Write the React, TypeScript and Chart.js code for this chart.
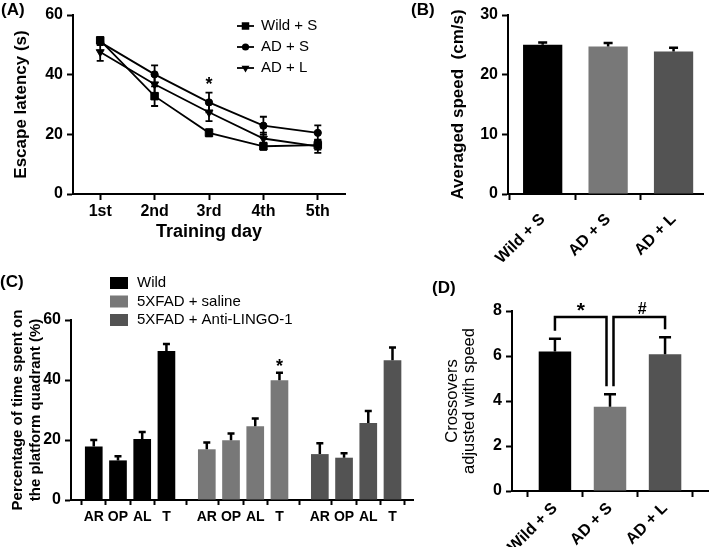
import React, { useEffect, useRef } from 'react';
import { Chart, registerables } from 'chart.js';

Chart.register(...registerables);

const FONT = "'Liberation Sans', Arial, Helvetica, sans-serif";
Chart.defaults.font.family = FONT;
Chart.defaults.color = '#000';

// ---------------- data ----------------
// (A) escape latency
const trainingDays = ['1st', '2nd', '3rd', '4th', '5th'];
const latencyWildS = [51.5, 32.8, 20.5, 16.0, 16.4];
const latencyWildSErr = [1.0, 3.3, 1.2, 1.2, 1.5];
const latencyADS = [50.9, 40.1, 30.7, 22.9, 20.5];
const latencyADSErr = [1.0, 3.0, 3.3, 3.0, 2.5];
const latencyADL = [47.6, 36.8, 27.4, 18.6, 16.0];
const latencyADLErr = [3.0, 3.0, 3.0, 2.0, 2.2];
const latencySeriesNames = ['Wild + S', 'AD + S', 'AD + L'];

// (B) averaged speed
const groupLabels = ['Wild + S', 'AD + S', 'AD + L'];
const speedValues = [25.0, 24.7, 23.9];
const speedErr = [0.4, 0.6, 0.6];

// (C) probe trial
const quadrantLabels = ['AR', 'OP', 'AL', 'T'];
const probeGroupNames = ['Wild', '5XFAD + saline', '5XFAD + Anti-LINGO-1'];
const probeWild = [17.8, 13.2, 20.3, 49.7];
const probeWildErr = [2.2, 1.4, 2.4, 2.3];
const probeSaline = [16.9, 19.9, 24.6, 39.9];
const probeSalineErr = [2.3, 2.3, 2.6, 2.5];
const probeAnti = [15.3, 14.1, 25.7, 46.6];
const probeAntiErr = [3.6, 1.5, 4.0, 4.2];

// (D) crossovers
const crossoverValues = [6.2, 3.74, 6.08];
const crossoverErr = [0.57, 0.56, 0.75];
const crossoverLevel = 7.73;
const crossoverMarks = [
  { from: 0, to: 1, text: '*' },
  { from: 1, to: 2, text: '#' },
];

const groupColors = ['#000000', '#787878', '#535353'];

// ---------------- helpers ----------------
const tickFont = (size = 16) => ({ family: FONT, size, weight: 'bold' as any });

function axisBase() {
  return {
    border: { display: true, color: '#000', width: 2 },
    grid: {
      display: true,
      drawOnChartArea: false,
      drawTicks: true,
      tickLength: 6,
      tickWidth: 2,
      color: '#000',
    },
  };
}

function drawMarker(ctx: CanvasRenderingContext2D, style: string, x: number, y: number, r: number) {
  ctx.beginPath();
  if (style === 'rect') {
    const s = r * Math.SQRT1_2;
    ctx.rect(x - s, y - s, 2 * s, 2 * s);
  } else if (style === 'circle') {
    ctx.arc(x, y, r, 0, Math.PI * 2);
  } else {
    ctx.moveTo(x, y + r);
    ctx.lineTo(x - r * 0.866, y - r * 0.5);
    ctx.lineTo(x + r * 0.866, y - r * 0.5);
    ctx.closePath();
  }
  ctx.fill();
}

const errorBarPlugin = {
  id: 'errorBars',
  afterDatasetsDraw(chart: any, _args: any, opts: any) {
    const { ctx } = chart;
    const yScale = chart.scales.y;
    ctx.save();
    ctx.strokeStyle = '#000';
    ctx.lineWidth = opts.lineWidth;
    chart.data.datasets.forEach((ds: any, di: number) => {
      const errs = ds.errors;
      if (!errs) return;
      const meta = chart.getDatasetMeta(di);
      meta.data.forEach((el: any, i: number) => {
        const raw = ds.data[i];
        const v = typeof raw === 'number' ? raw : raw.y;
        const e = errs[i];
        const x = el.x;
        const top = yScale.getPixelForValue(v + e);
        const bottom = yScale.getPixelForValue(opts.both ? v - e : v);
        const h = opts.cap / 2;
        ctx.beginPath();
        ctx.moveTo(x, bottom);
        ctx.lineTo(x, top);
        ctx.moveTo(x - h, top);
        ctx.lineTo(x + h, top);
        if (opts.both) {
          ctx.moveTo(x - h, bottom);
          ctx.lineTo(x + h, bottom);
        }
        ctx.stroke();
      });
    });
    ctx.restore();
  },
};

function starPlugin(id: string, series: number, index: number, size: number, lift: number) {
  return {
    id,
    afterDatasetsDraw(chart: any) {
      const { ctx } = chart;
      const ds = chart.data.datasets[series];
      const el = chart.getDatasetMeta(series).data[index];
      const raw = ds.data[index];
      const v = typeof raw === 'number' ? raw : raw.y;
      const y = chart.scales.y.getPixelForValue(v + ds.errors[index]) - lift;
      ctx.save();
      ctx.fillStyle = '#000';
      ctx.font = `bold ${size}px ${FONT}`;
      ctx.textAlign = 'center';
      ctx.textBaseline = 'alphabetic';
      ctx.fillText('*', el.x, y);
      ctx.restore();
    },
  };
}

// ---------------- (A) ----------------
function configA(): any {
  const styles = [
    { pointStyle: 'rect', pointRadius: 5.3, pointRotation: 0 },
    { pointStyle: 'circle', pointRadius: 3.6, pointRotation: 0 },
    { pointStyle: 'triangle', pointRadius: 4.6, pointRotation: 180 },
  ];
  const values = [latencyWildS, latencyADS, latencyADL];
  const errors = [latencyWildSErr, latencyADSErr, latencyADLErr];
  const legendPlugin = {
    id: 'legendA',
    afterDraw(chart: any) {
      const { ctx, chartArea } = chart;
      ctx.save();
      chart.data.datasets.forEach((ds: any, i: number) => {
        const y = chartArea.top + 11 + i * 21;
        const x0 = chartArea.left + 164;
        ctx.strokeStyle = '#000';
        ctx.lineWidth = 1.8;
        ctx.beginPath();
        ctx.moveTo(x0, y);
        ctx.lineTo(x0 + 17, y);
        ctx.stroke();
        ctx.fillStyle = '#000';
        drawMarker(ctx, ds.pointStyle, x0 + 8.5, y, ds.pointRadius);
        ctx.font = `15px ${FONT}`;
        ctx.textBaseline = 'middle';
        ctx.textAlign = 'left';
        ctx.fillText(ds.label, x0 + 24, y);
      });
      ctx.restore();
    },
  };
  return {
    type: 'line',
    data: {
      labels: trainingDays,
      datasets: latencySeriesNames.map((name, i) => ({
        label: name,
        data: values[i],
        errors: errors[i],
        ...styles[i],
        borderColor: '#000',
        backgroundColor: '#000',
        pointBackgroundColor: '#000',
        pointBorderColor: '#000',
        pointBorderWidth: 1,
        borderWidth: 1.8,
        tension: 0,
        fill: false,
      })),
    },
    options: {
      responsive: false,
      animation: false,
      devicePixelRatio: 1,
      layout: { padding: { left: 7, top: 15, right: 15, bottom: 15 } },
      plugins: {
        legend: { display: false },
        tooltip: { enabled: false },
        errorBars: { both: true, cap: 7, lineWidth: 1.8 },
      },
      scales: {
        x: {
          type: 'category',
          offset: true,
          afterFit: (s: any) => { s.height = 53; },
          ...axisBase(),
          ticks: { color: '#000', font: tickFont(16), padding: 2, autoSkip: false, maxRotation: 0 },
          title: {
            display: true,
            text: 'Training day',
            color: '#000',
            font: { family: FONT, size: 18, weight: 'bold' },
            padding: { top: 0, bottom: 4 },
          },
        },
        y: {
          type: 'linear',
          min: 0,
          max: 60,
          afterFit: (s: any) => { s.width = 66; },
          ...axisBase(),
          ticks: { color: '#000', font: tickFont(16), padding: 4, stepSize: 20 },
          title: {
            display: true,
            text: 'Escape latency (s)',
            color: '#000',
            font: { family: FONT, size: 17, weight: 'bold' },
            padding: { top: 4, bottom: 4 },
          },
        },
      },
    },
    plugins: [errorBarPlugin, legendPlugin, starPlugin('starA', 1, 2, 18, 3)],
  };
}

// ---------------- (B) ----------------
function configB(): any {
  const idx = groupLabels.map((_, i) => i);
  return {
    type: 'bar',
    data: {
      datasets: [
        {
          label: 'Averaged speed',
          data: speedValues.map((v, i) => ({ x: i, y: v })),
          errors: speedErr,
          backgroundColor: groupColors,
          borderWidth: 0,
          barPercentage: 0.6,
          categoryPercentage: 1,
        },
      ],
    },
    options: {
      responsive: false,
      animation: false,
      devicePixelRatio: 1,
      layout: { padding: { left: 84, top: 15, right: 6, bottom: 0 } },
      plugins: {
        legend: { display: false },
        tooltip: { enabled: false },
        errorBars: { both: false, cap: 9, lineWidth: 2.5 },
      },
      scales: {
        x: {
          type: 'linear',
          bounds: 'data',
          offset: false,
          min: -0.53,
          max: 2.45,
          afterFit: (s: any) => { s.height = 76; },
          afterBuildTicks: (s: any) => { s.ticks = idx.map((v) => ({ value: v })); },
          ...axisBase(),
          ticks: {
            color: '#000',
            font: tickFont(16),
            padding: 10,
            autoSkip: false,
            minRotation: 45,
            maxRotation: 45,
            callback: (_v: any, i: number) => groupLabels[i],
          },
        },
        y: {
          type: 'linear',
          min: 0,
          max: 30,
          afterFit: (s: any) => { s.width = 64; },
          ...axisBase(),
          ticks: { color: '#000', font: tickFont(16), padding: 4, stepSize: 10 },
          title: {
            display: true,
            text: 'Averaged speed  (cm/s)',
            color: '#000',
            font: { family: FONT, size: 17, weight: 'bold' },
            padding: { top: 4, bottom: 4 },
          },
        },
      },
    },
    plugins: [errorBarPlugin],
  };
}

// ---------------- (C) ----------------
const GROUP_STRIDE = 14 / 3;
function configC(): any {
  const groups = [probeWild, probeSaline, probeAnti];
  const groupErr = [probeWildErr, probeSalineErr, probeAntiErr];
  const positions: number[] = [];
  const tickLabels: string[] = [];
  groups.forEach((_, g) =>
    quadrantLabels.forEach((q, i) => {
      positions.push(g * GROUP_STRIDE + i);
      tickLabels.push(q);
    }),
  );
  const legendPlugin = {
    id: 'legendC',
    afterDraw(chart: any) {
      const { ctx, chartArea } = chart;
      ctx.save();
      chart.data.datasets.forEach((ds: any, i: number) => {
        const y = chartArea.top - 37 + i * 18.5;
        const x0 = chartArea.left + 39;
        ctx.fillStyle = ds.backgroundColor;
        ctx.fillRect(x0, y - 6, 18, 12);
        ctx.fillStyle = '#000';
        ctx.font = `15px ${FONT}`;
        ctx.textBaseline = 'middle';
        ctx.textAlign = 'left';
        ctx.fillText(ds.label, x0 + 27, y);
      });
      ctx.restore();
    },
  };
  return {
    type: 'bar',
    data: {
      datasets: probeGroupNames.map((name, g) => ({
        label: name,
        data: groups[g].map((v, i) => ({ x: g * GROUP_STRIDE + i, y: v })),
        errors: groupErr[g],
        backgroundColor: groupColors[g],
        borderWidth: 0,
        grouped: false,
        barPercentage: 0.73,
        categoryPercentage: 1,
      })),
    },
    options: {
      responsive: false,
      animation: false,
      devicePixelRatio: 1,
      layout: { padding: { left: 5, top: 50, right: 7, bottom: 7 } },
      plugins: {
        legend: { display: false },
        tooltip: { enabled: false },
        errorBars: { both: false, cap: 7, lineWidth: 2.5 },
      },
      scales: {
        x: {
          type: 'linear',
          bounds: 'data',
          offset: false,
          min: -0.94,
          max: 13.18,
          afterFit: (s: any) => { s.height = 40; },
          afterBuildTicks: (s: any) => { s.ticks = positions.map((v) => ({ value: v })); },
          ...axisBase(),
          grid: { ...axisBase().grid, tickLength: 5 },
          ticks: {
            color: '#000',
            font: tickFont(14),
            padding: 4,
            autoSkip: false,
            maxRotation: 0,
            callback: (_v: any, i: number) => tickLabels[i],
          },
        },
        y: {
          type: 'linear',
          min: 0,
          max: 60,
          afterFit: (s: any) => { s.width = 66; },
          ...axisBase(),
          ticks: { color: '#000', font: tickFont(16), padding: 4, stepSize: 20 },
          title: {
            display: true,
            text: ['Percentage of time spent on', 'the platform quadrant (%)'],
            color: '#000',
            font: { family: FONT, size: 15, weight: 'bold', lineHeight: 1.2 },
            padding: { top: 4, bottom: 4 },
          },
        },
      },
    },
    plugins: [errorBarPlugin, legendPlugin, starPlugin('starC', 1, 3, 18, 1)],
  };
}

// ---------------- (D) ----------------
function configD(): any {
  const idx = groupLabels.map((_, i) => i);
  const bracketPlugin = {
    id: 'brackets',
    afterDatasetsDraw(chart: any) {
      const { ctx } = chart;
      const xs = chart.scales.x;
      const ys = chart.scales.y;
      const lineY = ys.getPixelForValue(crossoverLevel);
      const legBottom = (i: number) => ys.getPixelForValue(crossoverValues[i] + crossoverErr[i]) - 8;
      ctx.save();
      ctx.strokeStyle = '#000';
      ctx.lineWidth = 2.5;
      ctx.lineJoin = 'miter';
      crossoverMarks.forEach((m) => {
        // legs on the shared middle bar are split to either side of its centre
        const xa = xs.getPixelForValue(m.from) + (m.from === 1 ? 3.5 : 0);
        const xb = xs.getPixelForValue(m.to) - (m.to === 1 ? 3.5 : 0);
        ctx.beginPath();
        ctx.moveTo(xa, legBottom(m.from));
        ctx.lineTo(xa, lineY);
        ctx.lineTo(xb, lineY);
        ctx.lineTo(xb, legBottom(m.to));
        ctx.stroke();
        ctx.fillStyle = '#000';
        ctx.textAlign = 'center';
        ctx.textBaseline = 'alphabetic';
        if (m.text === '*') {
          ctx.font = `bold 21px ${FONT}`;
          ctx.fillText(m.text, (xa + xb) / 2, lineY);
        } else {
          ctx.font = `bold 16px ${FONT}`;
          ctx.fillText(m.text, (xa + xb) / 2 + 3, lineY - 3);
        }
      });
      ctx.restore();
    },
  };
  return {
    type: 'bar',
    data: {
      datasets: [
        {
          label: 'Crossovers',
          data: crossoverValues.map((v, i) => ({ x: i, y: v })),
          errors: crossoverErr,
          backgroundColor: groupColors,
          borderWidth: 0,
          barPercentage: 0.59,
          categoryPercentage: 1,
        },
      ],
    },
    options: {
      responsive: false,
      animation: false,
      devicePixelRatio: 1,
      layout: { padding: { left: 20, top: 41, right: 1, bottom: 0 } },
      plugins: {
        legend: { display: false },
        tooltip: { enabled: false },
        errorBars: { both: false, cap: 12, lineWidth: 2.5 },
      },
      scales: {
        x: {
          type: 'linear',
          bounds: 'data',
          offset: false,
          min: -0.78,
          max: 2.78,
          afterFit: (s: any) => { s.height = 56; },
          afterBuildTicks: (s: any) => { s.ticks = idx.map((v) => ({ value: v })); },
          ...axisBase(),
          ticks: {
            color: '#000',
            font: tickFont(16),
            padding: 2,
            autoSkip: false,
            minRotation: 45,
            maxRotation: 45,
            callback: (_v: any, i: number) => groupLabels[i],
          },
        },
        y: {
          type: 'linear',
          min: 0,
          max: 8,
          afterFit: (s: any) => { s.width = 72; },
          ...axisBase(),
          ticks: { color: '#000', font: tickFont(16), padding: 4, stepSize: 2 },
          title: {
            display: true,
            text: ['Crossovers', 'adjusted with speed'],
            color: '#000',
            font: { family: FONT, size: 16.5, weight: 'normal', lineHeight: 1.02 },
            padding: { top: 4, bottom: 4 },
          },
        },
      },
    },
    plugins: [errorBarPlugin, bracketPlugin],
  };
}

// ---------------- components ----------------
function ChartCanvas({ make, left, top, width, height }: any) {
  const ref = useRef<HTMLCanvasElement>(null);
  useEffect(() => {
    const chart = new Chart(ref.current as HTMLCanvasElement, make());
    return () => chart.destroy();
  }, []);
  return (
    <canvas
      ref={ref}
      width={width}
      height={height}
      style={{ position: 'absolute', left, top, width, height, display: 'block' }}
    />
  );
}

function PanelLabel({ text, left, top }: any) {
  return (
    <div
      style={{
        position: 'absolute',
        left,
        top,
        font: `bold 17px ${FONT}`,
        lineHeight: '17px',
        color: '#000',
        whiteSpace: 'nowrap',
      }}
    >
      {text}
    </div>
  );
}

export default function App() {
  return (
    <div
      style={{
        position: 'absolute',
        left: 0,
        top: 0,
        width: 709,
        height: 547,
        background: '#fff',
        overflow: 'hidden',
      }}
    >
      <ChartCanvas make={configA} left={0} top={0} width={360} height={262} />
      <ChartCanvas make={configB} left={360} top={0} width={349} height={270} />
      <ChartCanvas make={configC} left={0} top={270} width={420} height={277} />
      <ChartCanvas make={configD} left={420} top={270} width={289} height={277} />
      <PanelLabel text="(A)" left={1} top={1} />
      <PanelLabel text="(B)" left={411} top={1} />
      <PanelLabel text="(C)" left={0} top={273} />
      <PanelLabel text="(D)" left={432} top={279} />
    </div>
  );
}
